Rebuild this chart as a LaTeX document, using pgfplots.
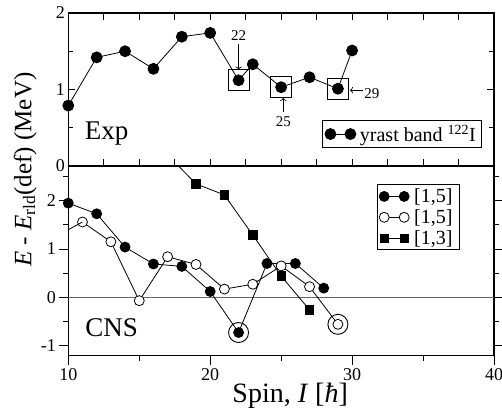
\documentclass[border=0pt]{standalone}
\usepackage{fontspec}
\setmainfont{Liberation Serif}
\usepackage{pgfplots}
\pgfplotsset{compat=1.18}
\usetikzlibrary{arrows.meta}

% experimental yrast band
\pgfplotstableread{
x y
10 0.79
12 1.42
14 1.50
16 1.27
18 1.69
20 1.74
22 1.12
23 1.33
25 1.03
27 1.16
29 1.01
30 1.51
}\exptab

\begin{document}
\begin{tikzpicture}
\pgfplotsset{
  every axis/.append style={
    scale only axis, width=425.7pt,
    xmin=10, xmax=40,
    axis line style={line width=1.4pt},
    every tick/.style={black, line width=0.9pt},
    tick label style={font=\fontsize{18}{21}\selectfont},
    /pgf/number format/assume math mode=true,
    legend cell align=left,
    legend image code/.code={
      \draw[mark repeat=2, mark phase=1, #1] plot coordinates {(0pt,0pt) (10pt,0pt) (20pt,0pt)};
    },
  },
  ser/.style={black, line width=0.8pt},
}

% top panel: experiment
\begin{axis}[
  at={(0pt,189.7pt)}, anchor=south west, height=153pt,
  ymin=0, ymax=2,
  xtick={10,12.5,...,40}, xticklabels={},
  ytick={0,1,2}, minor ytick={0.5,1.5},
  tick align=inside, major tick length=7pt, minor tick length=5pt,
  clip mode=individual,
  legend style={at={(0.9725,0.12)}, anchor=south east, draw=black, line width=0.9pt,
    font=\fontsize{20}{23}\selectfont, inner sep=2pt, nodes={inner xsep=4pt}},
]
\addplot[ser, mark=*, mark size=5.5pt] table {\exptab};
\addlegendentry{yrast band \textsuperscript{122}I}
\addplot[black, only marks, mark=square, mark size=10.5pt, mark options={line width=0.9pt}, forget plot]
  coordinates {(22,1.12) (25,1.03) (29,1.01)};
\node[font=\fontsize{15}{18}\selectfont] at (axis cs:22,1.70) {22};
\draw[line width=0.7pt, -{To[length=3pt]}] (axis cs:22,1.59) -- (axis cs:22,1.26);
\node[font=\fontsize{15}{18}\selectfont] at (axis cs:25.15,0.58) {25};
\draw[line width=0.7pt, -{To[length=3pt]}] (axis cs:25.15,0.70) -- (axis cs:25.15,0.89);
\node[font=\fontsize{15}{18}\selectfont] at (axis cs:31.4,0.95) {29};
\draw[line width=0.7pt, -{To[length=3pt]}] (axis cs:30.75,0.99) -- (axis cs:29.85,0.99);
\node[font=\fontsize{27}{30}\selectfont] at (axis cs:12.7,0.42) {Exp};
\end{axis}

% bottom panel: CNS calculations
\begin{axis}[
  at={(0pt,0pt)}, anchor=south west, height=189.7pt,
  ymin=-1.21, ymax=2.72,
  xtick={10,20,30,40}, minor xtick={15,25,35}, xtick pos=left,
  ytick={-1,0,1,2}, minor ytick={-0.5,0.5,1.5,2.5},
  tick align=outside, major tick length=9pt, minor tick length=5pt,
  clip mode=individual,
  xlabel={Spin, \textit{I} [\textit{ħ}]},
  xlabel style={font=\fontsize{28}{32}\selectfont, yshift=4pt, xshift=9pt},
  legend style={at={(0.92,0.9035)}, anchor=north east, draw=black, line width=0.9pt,
    font=\fontsize{20}{22}\selectfont, inner sep=2pt, row sep=1.5pt, nodes={inner xsep=5pt}},
]
\addplot[gray!80!black, line width=0.7pt, forget plot] coordinates {(10,0) (40,0)};
\addplot[ser, mark=*, mark size=5pt] coordinates {
  (10,1.95) (12,1.73) (14,1.04) (16,0.69) (18,0.64) (20,0.12) (22,-0.73)
  (24,0.70) (26,0.70) (28,0.19)};
\addlegendentry{[1,5]}
\addplot[ser, mark=*, mark size=5pt, mark options={fill=white}] coordinates {
  (11,1.56) (13,1.15) (15,-0.07) (17,0.84) (19,0.68) (21,0.17) (23,0.27)
  (25,0.65) (27,0.22) (29,-0.56)};
\addlegendentry{[1,5]}
\addplot[ser, mark=square*, mark size=4.2pt] coordinates {
  (19,2.35) (21,2.12) (23,1.29) (25,0.44) (27,-0.26)};
\addlegendentry{[1,3]}
% line pieces leaving the frame
\addplot[ser, forget plot] coordinates {(9,1.24) (11,1.56)};
\addplot[ser, forget plot] coordinates {(17,2.95) (19,2.35)};
% rings around the yrast states
\addplot[black, only marks, mark=o, mark size=10pt, mark options={line width=0.9pt}, forget plot]
  coordinates {(22,-0.73) (29,-0.56)};
\node[font=\fontsize{27}{30}\selectfont] at (axis cs:13.05,-0.64) {CNS};
\end{axis}

\node[rotate=90, font=\fontsize{25}{30}\selectfont] at (-43pt,186pt)
  {\textit{E} - \textit{E}\textsubscript{rld}(def) (MeV)};

\pgfresetboundingbox
\useasboundingbox (-68.3pt,-58.3pt) rectangle (433.7pt,355.7pt);
\end{tikzpicture}
\end{document}
